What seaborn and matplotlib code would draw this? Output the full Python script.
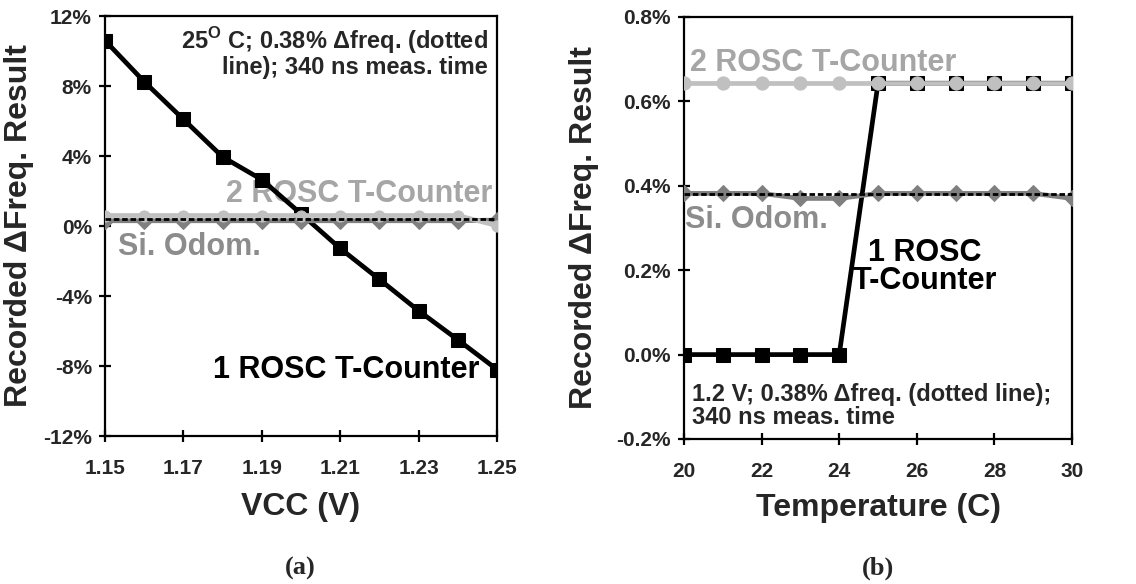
import matplotlib
matplotlib.use("Agg")
import matplotlib.pyplot as plt
import seaborn as sns
from matplotlib.ticker import FuncFormatter, MultipleLocator

sns.set_theme(style="white")
plt.rcParams["font.family"] = ["Liberation Sans", "DejaVu Sans"]
plt.rcParams["font.weight"] = "bold"
plt.rcParams["axes.unicode_minus"] = False
plt.rcParams["mathtext.fontset"] = "custom"
plt.rcParams["mathtext.rm"] = "Liberation Sans:bold"
plt.rcParams["mathtext.bf"] = "Liberation Sans:bold"

# (a) sweep over supply voltage, 25 C
vcc = [1.15, 1.16, 1.17, 1.18, 1.19, 1.20, 1.21, 1.22, 1.23, 1.24, 1.25]
rosc1_vcc = [10.6, 8.25, 6.1, 3.95, 2.65, 0.7, -1.28, -3.05, -4.84, -6.5, -8.2]
rosc2_vcc = [0.6, 0.6, 0.6, 0.6, 0.6, 0.6, 0.6, 0.6, 0.6, 0.6, 0.02]
odom_vcc = [0.3, 0.3, 0.3, 0.3, 0.3, 0.3, 0.3, 0.3, 0.3, 0.3, 0.34]

# (b) sweep over temperature, 1.2 V
temp = [20, 21, 22, 23, 24, 25, 26, 27, 28, 29, 30]
rosc1_temp = [0.0, 0.0, 0.0, 0.0, 0.0, 0.643, 0.643, 0.643, 0.643, 0.643, 0.643]
rosc2_temp = [0.643, 0.643, 0.643, 0.643, 0.643, 0.643, 0.643, 0.643, 0.643, 0.643, 0.643]
odom_temp = [0.382, 0.382, 0.382, 0.370, 0.370, 0.382, 0.382, 0.382, 0.382, 0.382, 0.370]

ref_freq = 0.38

BLACK = "#000000"
LIGHT = "#c0c0c0"
DARK = "#808080"
TXT_LIGHT = "#a6a6a6"
TXT_DARK = "#8c8c8c"

fig = plt.figure(figsize=(11.36, 5.84), dpi=100)
ax1 = fig.add_axes([0.0924, 0.2534, 0.3451, 0.7192])
ax2 = fig.add_axes([0.6021, 0.2483, 0.3416, 0.7226])


def draw(ax, x, r1, r2, od, ms_circ):
    sns.lineplot(x=x, y=r1, ax=ax, color=BLACK, lw=3.4, marker="s", ms=10,
                 mec=BLACK, zorder=3)
    sns.lineplot(x=x, y=od, ax=ax, color=DARK, lw=3.4, marker="D", ms=8,
                 mec=DARK, zorder=4)
    sns.lineplot(x=x, y=r2, ax=ax, color=LIGHT, lw=3.4, marker="o", ms=ms_circ,
                 mec=LIGHT, zorder=5)
    ax.axhline(ref_freq, color=BLACK, lw=2.0, dashes=(2, 1), zorder=6)
    for s in ax.spines.values():
        s.set_color(BLACK)
        s.set_linewidth(1.6)
    ax.tick_params(direction="inout", length=9, width=1.6, color=BLACK,
                   labelsize=15, bottom=True, left=True)
    ax.tick_params(axis="y", pad=5)
    ax.tick_params(axis="x", pad=12)
    for lab in ax.get_xticklabels() + ax.get_yticklabels():
        lab.set_fontweight("bold")
    ax.set_ylabel("Recorded \u0394Freq. Result", fontsize=23, fontweight="bold")


draw(ax1, vcc, rosc1_vcc, rosc2_vcc, odom_vcc, 8)
ax1.set_xlim(1.15, 1.25)
ax1.set_ylim(-12, 12)
ax1.set_xticks([1.15, 1.17, 1.19, 1.21, 1.23, 1.25])
ax1.set_xticklabels(["1.15", "1.17", "1.19", "1.21", "1.23", "1.25"], fontweight="bold")
ax1.yaxis.set_major_locator(MultipleLocator(4))
ax1.yaxis.set_major_formatter(FuncFormatter(lambda v, p: f"{v:.0f}%"))
ax1.set_xlabel("VCC (V)", fontsize=23, fontweight="bold", labelpad=10)
ax1.yaxis.set_label_coords(-0.18, 0.5)

ax1.text(1.2477, 11.5, "25$^{\\mathregular{O}}$ C; 0.38% \u0394freq. (dotted\nline); 340 ns meas. time",
         ha="right", va="top", fontsize=17, fontweight="bold", linespacing=1.0, zorder=1)
ax1.text(1.2487, 1.83, "2 ROSC T-Counter", ha="right", va="center", fontsize=22,
         fontweight="bold", color=TXT_LIGHT, zorder=1)
ax1.text(1.1533, -1.18, "Si. Odom.", ha="left", va="center", fontsize=22,
         fontweight="bold", color=TXT_DARK, zorder=1)
ax1.text(1.1776, -8.23, "1 ROSC T-Counter", ha="left", va="center", fontsize=22,
         fontweight="bold", color=BLACK, zorder=1)

draw(ax2, temp, rosc1_temp, rosc2_temp, odom_temp, 9.5)
ax2.set_xlim(20, 30)
ax2.set_ylim(-0.2, 0.8)
ax2.xaxis.set_major_locator(MultipleLocator(2))
ax2.yaxis.set_major_locator(MultipleLocator(0.2))
ax2.yaxis.set_major_formatter(FuncFormatter(lambda v, p: f"{v:.1f}%"))
ax2.xaxis.set_major_formatter(FuncFormatter(lambda v, p: f"{v:.0f}"))
ax2.set_xlabel("Temperature (C)", fontsize=23, fontweight="bold", labelpad=9)
ax2.yaxis.set_label_coords(-0.22, 0.5)

ax2.text(20.15, 0.691, "2 ROSC T-Counter", ha="left", va="center", fontsize=22,
         fontweight="bold", color=TXT_LIGHT, zorder=1)
ax2.text(20.03, 0.319, "Si. Odom.", ha="left", va="center", fontsize=22,
         fontweight="bold", color=TXT_DARK, zorder=1)
ax2.text(26.21, 0.2076, "1 ROSC\nT-Counter", ha="center", va="center", fontsize=22,
         fontweight="bold", color=BLACK, linespacing=0.95, zorder=1)
ax2.text(20.2, -0.068, "1.2 V; 0.38% \u0394freq. (dotted line);\n340 ns meas. time",
         ha="left", va="top", fontsize=17, fontweight="bold", linespacing=1.0, zorder=1)

fig.text(300 / 1136, 1 - 568 / 584, "(a)", ha="center", va="center", fontsize=19,
         fontweight="bold", family="Liberation Serif")
fig.text(878 / 1136, 1 - 568 / 584, "(b)", ha="center", va="center", fontsize=19,
         fontweight="bold", family="Liberation Serif")

fig.savefig("out.png", dpi=100)
